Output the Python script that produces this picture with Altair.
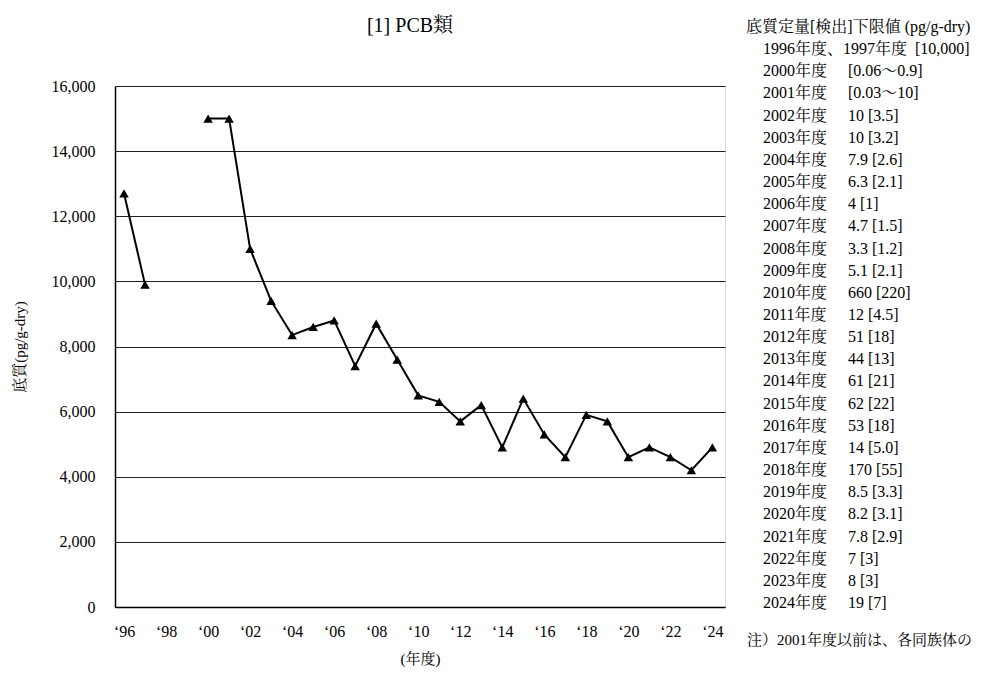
import altair as alt
import pandas as pd

FONT = "Liberation Serif, Noto Serif CJK JP, Noto Sans CJK JP"

years = [1996, 1997, 2000, 2001, 2002, 2003, 2004, 2005, 2006, 2007, 2008, 2009,
         2010, 2011, 2012, 2013, 2014, 2015, 2016, 2017, 2018, 2019, 2020, 2021,
         2022, 2023, 2024]
values = [12700, 9900, 15000, 15000, 11000, 9400, 8350, 8600, 8800, 7400, 8700, 7600,
          6500, 6300, 5700, 6200, 4900, 6400, 5300, 4600, 5900, 5700, 4600, 4900,
          4600, 4200, 4900]
tick_years = list(range(1996, 2025, 2))
y_ticks = list(range(0, 16001, 2000))

header_text = "底質定量[検出]下限値 (pg/g-dry)"
left_labels = ["1996年度、1997年度\u00a0\u00a0[10,000]", "2000年度", "2001年度", "2002年度", "2003年度",
               "2004年度", "2005年度", "2006年度", "2007年度", "2008年度", "2009年度",
               "2010年度", "2011年度", "2012年度", "2013年度", "2014年度", "2015年度",
               "2016年度", "2017年度", "2018年度", "2019年度", "2020年度", "2021年度",
               "2022年度", "2023年度", "2024年度"]
right_labels = ["", "[0.06～0.9]", "[0.03～10]", "10 [3.5]", "10 [3.2]", "7.9 [2.6]",
                "6.3 [2.1]", "4 [1]", "4.7 [1.5]", "3.3 [1.2]", "5.1 [2.1]", "660 [220]",
                "12 [4.5]", "51 [18]", "44 [13]", "61 [21]", "62 [22]", "53 [18]",
                "14 [5.0]", "170 [55]", "8.5 [3.3]", "8.2 [3.1]", "7.8 [2.9]", "7 [3]",
                "8 [3]", "19 [7]"]
note_text = "注）2001年度以前は、各同族体の"

df = pd.DataFrame({
    "year": years,
    "value": values,
    "seg": ["early" if y < 1999 else "late" for y in years],
})

x_enc = alt.X(
    "year:Q",
    scale=alt.Scale(domain=[1995.57, 2024.6], nice=False, zero=False),
    axis=alt.Axis(
        values=tick_years,
        labelExpr="'\u2018' + substring(toString(datum.value), 2)",
        grid=False, ticks=False, tickSize=0,
        domainColor="black", domainWidth=1.5,
        labelFont=FONT, labelFontSize=16, labelColor="black", labelPadding=16,
        labelFlush=False, labelOverlap=False,
        title="(年度)", titleFont=FONT, titleFontSize=15, titleFontWeight="normal",
        titleColor="black", titlePadding=12,
    ),
)
y_enc = alt.Y(
    "value:Q",
    scale=alt.Scale(domain=[0, 16000], nice=False),
    axis=alt.Axis(
        values=y_ticks, format=",d",
        grid=True, gridColor="#222222", gridWidth=1,
        ticks=False, tickSize=0,
        domainColor="black", domainWidth=1.5,
        labelFont=FONT, labelFontSize=16, labelColor="black", labelPadding=20,
        title="底質(pg/g-dry)", titleFont=FONT, titleFontSize=15,
        titleFontWeight="normal", titleColor="black", titlePadding=24,
    ),
)

line = alt.Chart(df).mark_line(color="black", strokeWidth=2).encode(
    x=x_enc, y=y_enc, detail="seg:N"
)
points = alt.Chart(df).mark_point(
    shape="triangle-up", filled=True, color="black", size=90, opacity=1
).encode(x=x_enc, y=y_enc)

base = alt.layer(line, points)

rows_df = pd.DataFrame({
    "row": list(range(1, len(left_labels) + 1)),
    "left": left_labels,
    "right": right_labels,
})
header_df = pd.DataFrame({"row": [0], "t": [header_text]})
note_df = pd.DataFrame({"row": [27.67], "t": [note_text]})

ty = alt.Y("row:Q", scale=alt.Scale(domain=[0, 26], range=[-59, 517], nice=False, zero=False), axis=None)

txt_style = dict(font=FONT, fontSize=16, color="black", align="left", baseline="middle")

header = alt.Chart(header_df).mark_text(**txt_style).encode(
    x=alt.value(631), y=ty, text="t:N")
col1 = alt.Chart(rows_df).mark_text(**txt_style).encode(
    x=alt.value(648), y=ty, text="left:N")
col2 = alt.Chart(rows_df).mark_text(**txt_style).encode(
    x=alt.value(733), y=ty, text="right:N")
note = alt.Chart(note_df).mark_text(font=FONT, fontSize=15, color="black",
                                    align="left", baseline="middle").encode(
    x=alt.value(632), y=ty, text="t:N")

texts = alt.layer(header, col1, col2, note)

chart = alt.layer(base, texts).resolve_scale(y="independent").properties(
    width=610,
    height=521,
    title=alt.TitleParams("[1] PCB類", font=FONT, fontSize=20, fontWeight="normal",
                          color="black", anchor="middle", frame="group", offset=0,
                          dx=-10, dy=17),
    autosize=alt.AutoSizeParams(type="none"),
    padding={"left": 107, "top": 78, "right": 269, "bottom": 64},
).configure_view(stroke="#808080", strokeWidth=1.5).configure(background="white")

chart.save("out.html", embed_options={"renderer": "svg", "actions": False})
